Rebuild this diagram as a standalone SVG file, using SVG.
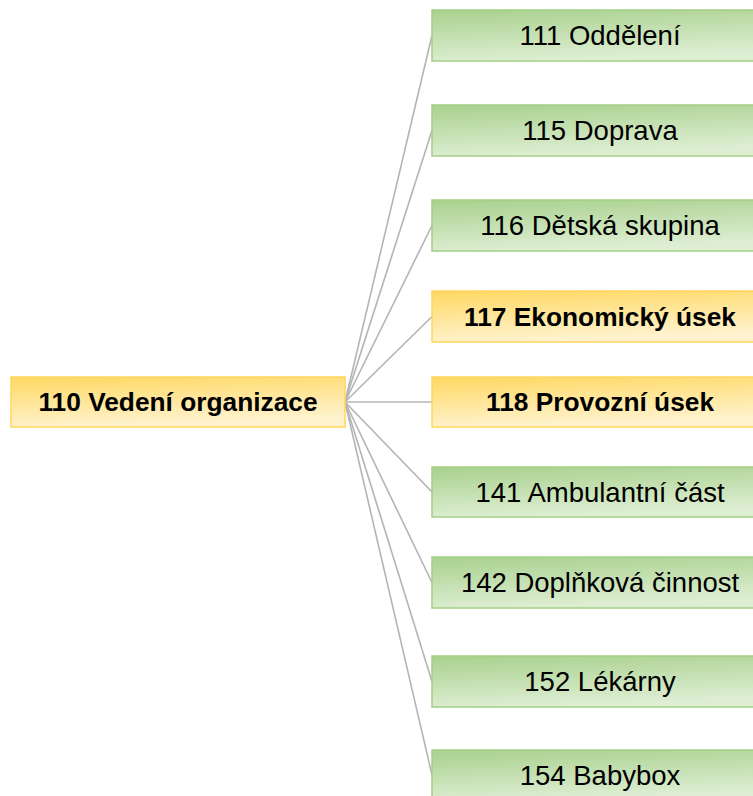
<svg xmlns="http://www.w3.org/2000/svg" width="753" height="796" viewBox="0 0 753 796">
  <defs>
    <linearGradient id="gGreen" x1="0" y1="0" x2="0.25" y2="1">
      <stop offset="0" stop-color="#a9d18e"/>
      <stop offset="1" stop-color="#deeed3"/>
    </linearGradient>
    <linearGradient id="gYellow" x1="0" y1="0" x2="0.25" y2="1">
      <stop offset="0" stop-color="#ffd862"/>
      <stop offset="1" stop-color="#fff3cf"/>
    </linearGradient>
  </defs>
  <style>
    .green { fill: url(#gGreen); stroke: #a3cf85; stroke-width: 1.5; }
    .yellow { fill: url(#gYellow); stroke: #ffd65c; stroke-width: 1.5; }
    .lbl { font-family: "Liberation Sans", Arial, sans-serif; font-size: 27.5px; fill: #000; text-anchor: middle; }
    .bold { font-weight: bold; font-size: 26.3px; }
    .conn { stroke: #b4b4b4; stroke-width: 1.6; fill: none; }
  </style>

  <!-- connectors from the root to each unit -->
  <g id="connectors">
    <line class="conn" x1="345" y1="402" x2="432" y2="35.5"/>
    <line class="conn" x1="345" y1="402" x2="432" y2="130.5"/>
    <line class="conn" x1="345" y1="402" x2="432" y2="225.5"/>
    <line class="conn" x1="345" y1="402" x2="432" y2="316.5"/>
    <line class="conn" x1="345" y1="402" x2="432" y2="402"/>
    <line class="conn" x1="345" y1="402" x2="432" y2="492"/>
    <line class="conn" x1="345" y1="402" x2="432" y2="582.5"/>
    <line class="conn" x1="345" y1="402" x2="432" y2="681.5"/>
    <line class="conn" x1="345" y1="402" x2="432" y2="775"/>
  </g>

  <g id="n110">
    <rect class="yellow" x="11" y="377" width="334" height="50"/>
    <text class="lbl bold" x="178" y="411">110 Vedení organizace</text>
  </g>

  <g id="n111">
    <rect class="green" x="432" y="10" width="336" height="51"/>
    <text class="lbl" x="600" y="45">111 Oddělení</text>
  </g>
  <g id="n115">
    <rect class="green" x="432" y="105" width="336" height="51"/>
    <text class="lbl" x="600" y="140">115 Doprava</text>
  </g>
  <g id="n116">
    <rect class="green" x="432" y="200" width="336" height="51"/>
    <text class="lbl" x="600" y="235">116 Dětská skupina</text>
  </g>
  <g id="n117">
    <rect class="yellow" x="432" y="291" width="336" height="51"/>
    <text class="lbl bold" x="600" y="325.5">117 Ekonomický úsek</text>
  </g>
  <g id="n118">
    <rect class="yellow" x="432" y="377" width="336" height="50"/>
    <text class="lbl bold" x="600" y="411">118 Provozní úsek</text>
  </g>
  <g id="n141">
    <rect class="green" x="432" y="467" width="336" height="50"/>
    <text class="lbl" x="600" y="501.5">141 Ambulantní část</text>
  </g>
  <g id="n142">
    <rect class="green" x="432" y="557" width="336" height="51"/>
    <text class="lbl" x="600" y="592">142 Doplňková činnost</text>
  </g>
  <g id="n152">
    <rect class="green" x="432" y="656" width="336" height="51"/>
    <text class="lbl" x="600" y="691">152 Lékárny</text>
  </g>
  <g id="n154">
    <rect class="green" x="432" y="750" width="336" height="51"/>
    <text class="lbl" x="600" y="785">154 Babybox</text>
  </g>
</svg>
